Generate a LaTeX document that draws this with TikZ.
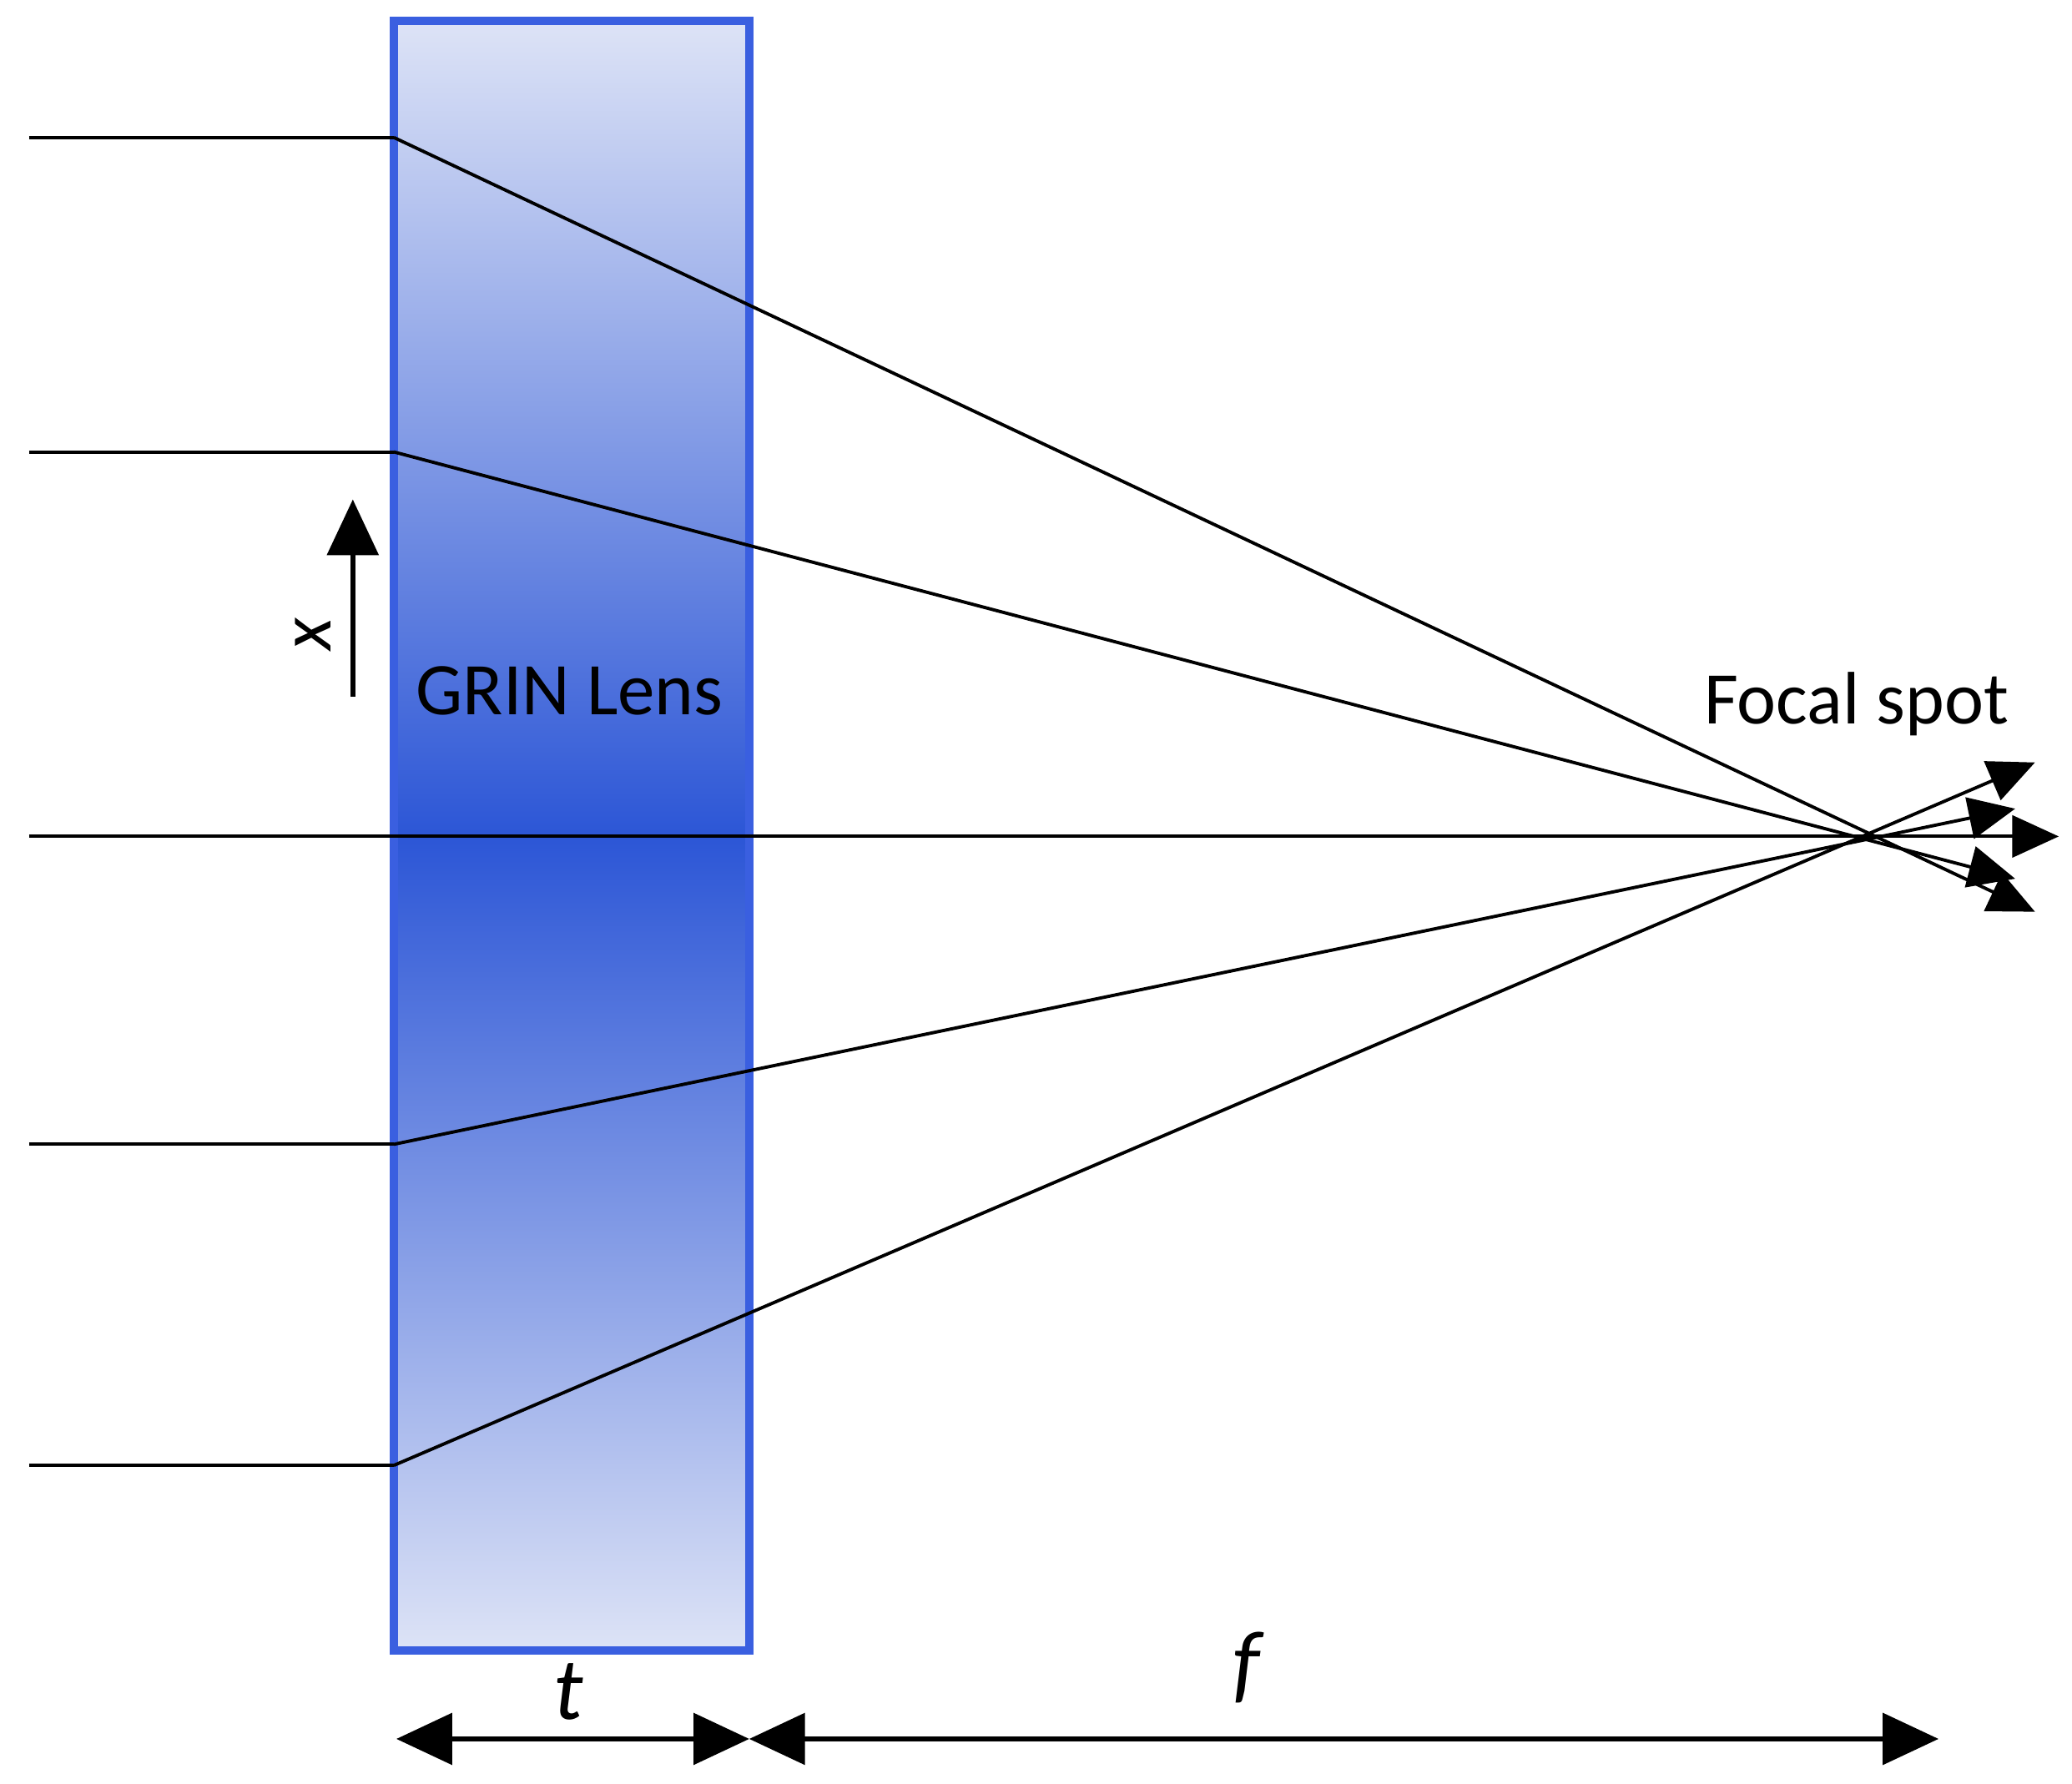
\documentclass[tikz,border=0pt]{standalone}
\usepackage{fontspec}
\setmainfont{Carlito}
\usetikzlibrary{arrows.meta}
\definecolor{lenslight}{HTML}{DDE3F6}
\definecolor{lensdark}{HTML}{2C56D6}
\definecolor{lensedge}{HTML}{3A5FE0}
\begin{document}
\begin{tikzpicture}[x=0.01cm,y=-0.01cm,
  ray/.style={line width=0.7pt},
  tip/.style={-{Triangle[length=10pt,width=9pt]}},
  lbl/.style={font=\fontsize{16}{19}\selectfont}]
\useasboundingbox (0,0) rectangle (1568,1350);
\shade[top color=lenslight,bottom color=lensdark] (298,16) rectangle (567,633);
\shade[top color=lensdark,bottom color=lenslight] (298,633) rectangle (567,1249);
\draw[lensedge,line width=1.8pt] (298,16) rectangle (567,1249);
\node[minimum width=2.69cm,minimum height=12.33cm,anchor=north west,inner sep=0] (lens) at (298,16) {};
\foreach \n/\y/\ex/\ey in {a/104/1540/690, b/342/1525/665, c/633/1558/633, d/866/1525/612, e/1109/1540/577}{
  \coordinate (s\n) at (22,\y);
  \coordinate (l\n) at (298,\y);
  \coordinate (t\n) at (\ex,\ey);
  \draw[ray] (s\n) -- (l\n);
  \draw[ray,tip] (l\n) -- (t\n);
}
\coordinate (xa) at (267,527);
\coordinate (xb) at (267,378);
\draw[line width=1pt,-{Triangle[length=12pt,width=11pt]}] (xa) -- (xb);
\node[rotate=90,font=\fontsize{16}{19}\selectfont\itshape] (xl) at (237,480) {x};
\node[lbl] (grin) at (431,523) {GRIN Lens};
\node[lbl] (focal) at (1405,533) {Focal spot};
\coordinate (d0) at (300,1316);
\coordinate (d1) at (567,1316);
\coordinate (d2) at (1467,1316);
\draw[line width=1pt,{Triangle[length=12pt,width=11pt]}-{Triangle[length=12pt,width=11pt]}] (d0) -- (d1);
\draw[line width=1pt,{Triangle[length=12pt,width=11pt]}-{Triangle[length=12pt,width=11pt]}] (d1) -- (d2);
\node[font=\fontsize{19}{22}\selectfont\itshape] (tl) at (430,1280) {t};
\node[font=\fontsize{19}{22}\selectfont\itshape] (fl) at (943,1262) {f};
\end{tikzpicture}
\end{document}
